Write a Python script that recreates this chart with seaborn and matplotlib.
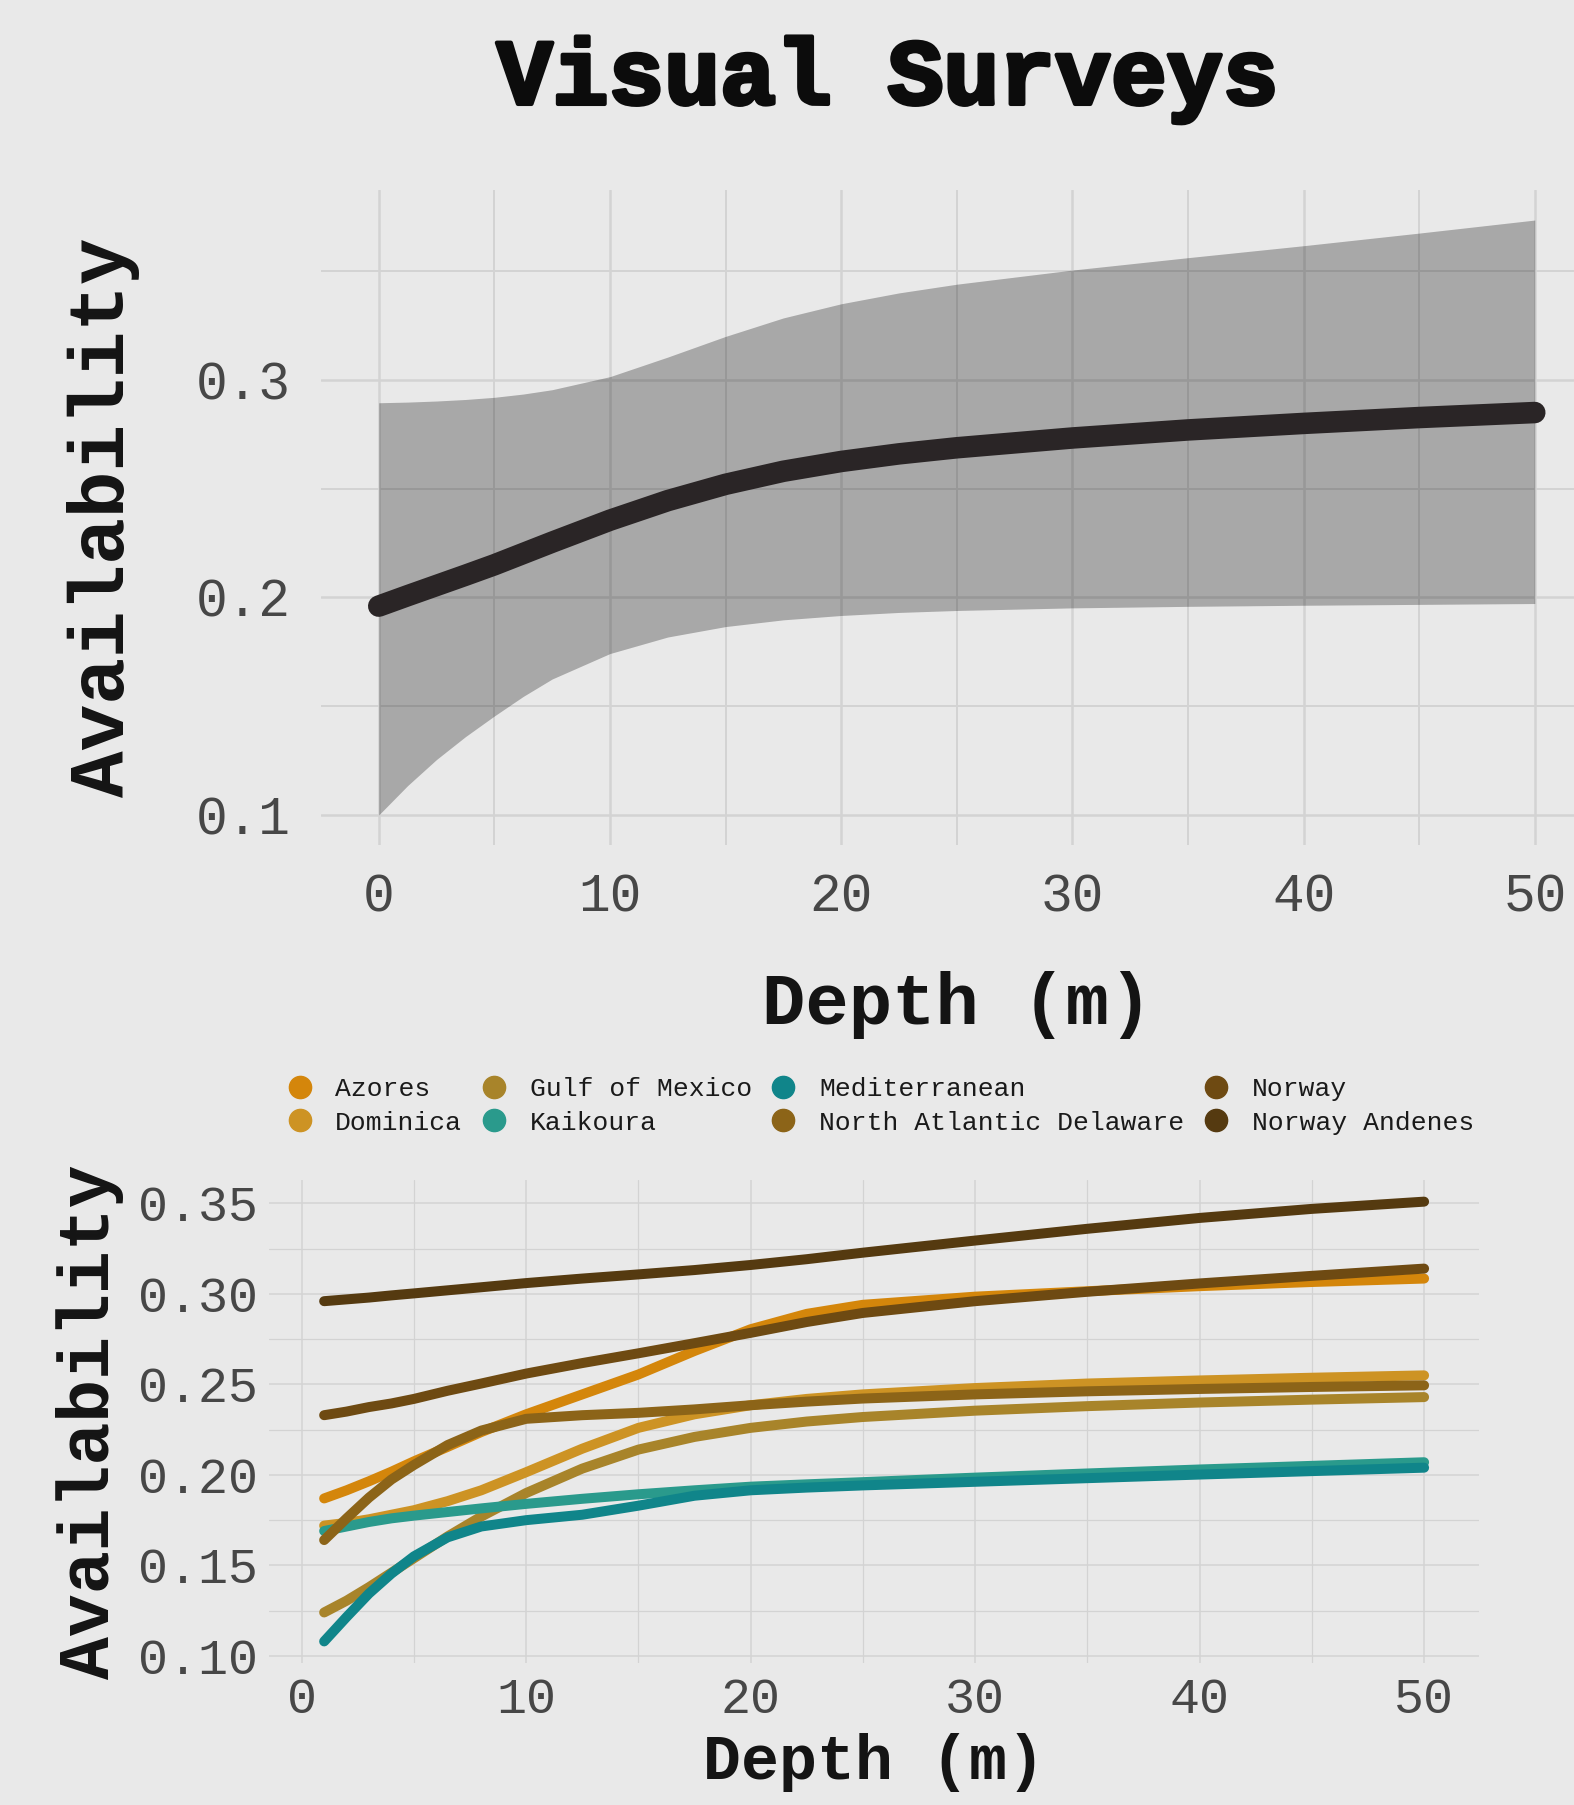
import matplotlib
matplotlib.use("Agg")
import numpy as np
import pandas as pd
import matplotlib.pyplot as plt
from matplotlib.lines import Line2D
from matplotlib.ticker import MultipleLocator, FuncFormatter
import matplotlib.patheffects as pe
import seaborn as sns

sns.set_theme(style="white")
plt.rcParams["font.family"] = ["Liberation Mono", "DejaVu Sans Mono"]

PAPER = "#e9e9e9"
GRID = "#d3d3d3"
TICK_COLOR = "#474747"
LABEL_COLOR = "#141414"

# ---- overall availability curve (visual surveys) ----
overall_depth = [0, 1.25, 2.5, 3.75, 5, 6.25, 7.5, 10, 12.5, 15, 17.5, 20, 22.5, 25,
                 30, 35, 40, 45, 50]
overall_mean = [0.196, 0.2008, 0.2055, 0.2102, 0.2150, 0.2202, 0.2254, 0.2355, 0.2445,
                0.2520, 0.2580, 0.2625, 0.2660, 0.2688, 0.2733, 0.2770, 0.2800, 0.2827,
                0.2850]
overall_upper = [0.2895, 0.2898, 0.2903, 0.2910, 0.2920, 0.2935, 0.2955, 0.3015, 0.3105,
                 0.3200, 0.3285, 0.3350, 0.3400, 0.3440, 0.3505, 0.3562, 0.3617, 0.3675,
                 0.3735]
overall_lower = [0.100, 0.1135, 0.1255, 0.1360, 0.1455, 0.1545, 0.1625, 0.1742, 0.1818,
                 0.1866, 0.1897, 0.1917, 0.1931, 0.1940, 0.1952, 0.1959, 0.1964, 0.1968,
                 0.1972]

# ---- availability per site ----
site_depth = [1, 2, 3, 4, 5, 6.5, 8, 10, 12.5, 15, 17.5, 20, 22.5, 25, 30, 35, 40, 45, 50]
sites = ["Azores", "Dominica", "Gulf of Mexico", "Kaikoura", "Mediterranean",
         "North Atlantic Delaware", "Norway", "Norway Andenes"]
azores = [0.187, 0.1915, 0.1965, 0.2018, 0.2075, 0.2155, 0.2237, 0.2335, 0.2445, 0.2555,
          0.2685, 0.2805, 0.2890, 0.2940, 0.2985, 0.3015, 0.3043, 0.3066, 0.3085]
dominica = [0.172, 0.1735, 0.1755, 0.178, 0.1805, 0.1855, 0.1915, 0.2015, 0.2145, 0.2260,
            0.2335, 0.2385, 0.2420, 0.2445, 0.2480, 0.2505, 0.2522, 0.2537, 0.2550]
gulf_of_mexico = [0.124, 0.1305, 0.138, 0.146, 0.154, 0.166, 0.177, 0.190, 0.2035, 0.2140,
                  0.2210, 0.2260, 0.2295, 0.2320, 0.2355, 0.2380, 0.2400, 0.2416, 0.2430]
kaikoura = [0.169, 0.1715, 0.174, 0.176, 0.1775, 0.1795, 0.1815, 0.1840, 0.1868, 0.1893,
            0.1915, 0.1935, 0.1948, 0.1960, 0.1985, 0.2008, 0.2030, 0.2050, 0.2070]
mediterranean = [0.108, 0.1215, 0.1345, 0.1455, 0.155, 0.1655, 0.1715, 0.1750, 0.1780,
                 0.1830, 0.1885, 0.1915, 0.1930, 0.1942, 0.1962, 0.1982, 0.2002, 0.2021,
                 0.2040]
north_atlantic_delaware = [0.164, 0.176, 0.1875, 0.1975, 0.2055, 0.2165, 0.2245, 0.2310,
                           0.2330, 0.2343, 0.2362, 0.2385, 0.2405, 0.2422, 0.2445, 0.2462,
                           0.2475, 0.2486, 0.2495]
norway = [0.233, 0.235, 0.2375, 0.2395, 0.242, 0.2465, 0.2505, 0.2560, 0.2618, 0.2672,
          0.2728, 0.2785, 0.2845, 0.2895, 0.2960, 0.3012, 0.3058, 0.3100, 0.3140]
norway_andenes = [0.296, 0.2970, 0.2980, 0.2992, 0.3003, 0.3020, 0.3037, 0.3060, 0.3085,
                  0.3108, 0.3132, 0.3160, 0.3192, 0.3228, 0.3295, 0.3360, 0.3420, 0.3470,
                  0.3510]
site_values = [azores, dominica, gulf_of_mexico, kaikoura, mediterranean,
               north_atlantic_delaware, norway, norway_andenes]
site_colors = ["#D4860B", "#CD9324", "#A8842A", "#2A9A8C", "#10858A",
               "#8C6418", "#6E4A12", "#553A10"]

overall = pd.DataFrame({"depth": overall_depth, "mean": overall_mean,
                        "lower": overall_lower, "upper": overall_upper})
by_site = pd.DataFrame({
    "depth": np.tile(site_depth, len(sites)),
    "availability": np.concatenate(site_values),
    "site": np.repeat(sites, len(site_depth)),
})
palette = dict(zip(sites, site_colors))

fig = plt.figure(figsize=(15.74, 18.05), dpi=100, facecolor=PAPER)


def style_axes(ax, grid_lw, tick_size, xpad, ypad):
    ax.set_facecolor("none")
    for s in ax.spines.values():
        s.set_visible(False)
    ax.grid(True, which="major", color=GRID, linewidth=grid_lw)
    ax.grid(True, which="minor", color=GRID, linewidth=grid_lw * 0.8)
    ax.set_axisbelow(True)
    ax.tick_params(which="both", length=0, labelsize=tick_size, labelcolor=TICK_COLOR)
    ax.tick_params(axis="x", pad=xpad)
    ax.tick_params(axis="y", pad=ypad)


# ---- top panel: pooled estimate with confidence band ----
ax1 = fig.add_axes([0.2039, 0.5320, 0.8079, 0.3626])
ax1.fill_between(overall["depth"], overall["lower"], overall["upper"],
                 color="black", alpha=0.28, linewidth=0, zorder=2)
sns.lineplot(data=overall, x="depth", y="mean", ax=ax1, color="#2a2526",
             linewidth=15.5, solid_capstyle="round", solid_joinstyle="round", zorder=3)
ax1.set_xlim(-2.5, 52.5)
ax1.set_ylim(0.0863, 0.3872)
ax1.xaxis.set_major_locator(MultipleLocator(10))
ax1.xaxis.set_minor_locator(MultipleLocator(5))
ax1.yaxis.set_major_locator(MultipleLocator(0.1))
ax1.yaxis.set_minor_locator(MultipleLocator(0.05))
style_axes(ax1, 1.8, 38, 20, 22)
ax1.yaxis.set_major_formatter(FuncFormatter(lambda v, p: f"{v:.1f}"))
ax1.set_xlabel("Depth (m)", fontsize=52, color=LABEL_COLOR, fontweight="bold", va="center")
ax1.set_ylabel("Availability", fontsize=56, color=LABEL_COLOR, fontweight="bold", va="center")
ax1.xaxis.set_label_coords(0.5, -0.245)
ax1.yaxis.set_label_coords(-0.171, 0.5)

fig.text(0.5635, 0.9557, "Visual Surveys", ha="center", va="center", fontsize=67,
         fontweight="bold", color="#0c0c0c",
         path_effects=[pe.withStroke(linewidth=3, foreground="#0c0c0c")])

# ---- bottom panel: one curve per site ----
ax2 = fig.add_axes([0.1710, 0.0784, 0.7687, 0.2681])
sns.lineplot(data=by_site, x="depth", y="availability", hue="site", palette=palette,
             hue_order=sites, linewidth=7.2, ax=ax2, legend=False,
             solid_capstyle="round", solid_joinstyle="round")
ax2.set_xlim(-1.45, 52.45)
ax2.set_ylim(0.0958, 0.3632)
ax2.xaxis.set_major_locator(MultipleLocator(10))
ax2.xaxis.set_minor_locator(MultipleLocator(5))
ax2.yaxis.set_major_locator(MultipleLocator(0.05))
ax2.yaxis.set_minor_locator(MultipleLocator(0.025))
style_axes(ax2, 1.1, 36, 10, 8)
ax2.yaxis.set_major_formatter(FuncFormatter(lambda v, p: f"{v:.2f}"))
ax2.set_xlabel("Depth (m)", fontsize=45.5, color=LABEL_COLOR, fontweight="bold", va="center")
ax2.set_ylabel("Availability", fontsize=51.5, color=LABEL_COLOR, fontweight="bold", va="center")
ax2.xaxis.set_label_coords(0.5, -0.204)
ax2.yaxis.set_label_coords(-0.148, 0.5)

handles = [Line2D([], [], linestyle="none", marker="o", markersize=16,
                  markerfacecolor=c, markeredgecolor=c) for c in site_colors]
fig.legend(handles, sites, loc="center left", bbox_to_anchor=(0.182, 0.3872),
           ncol=4, frameon=False, fontsize=19, handlelength=1.0, handletextpad=0.85,
           columnspacing=0.7, labelspacing=0.35, borderpad=0, borderaxespad=0,
           labelcolor="#1a1a1a")

fig.savefig("out.png", dpi=100, facecolor=PAPER)
